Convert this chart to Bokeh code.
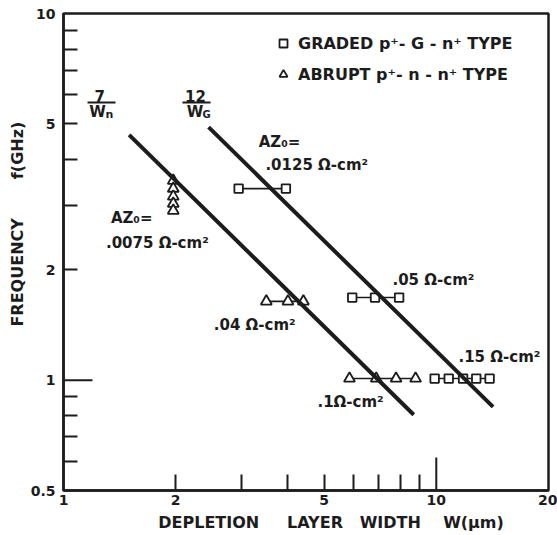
import numpy as np
from bokeh.plotting import figure
from bokeh.models import (Range1d, FixedTicker, NumeralTickFormatter,
                          Legend, LegendItem)
from bokeh.core.properties import value
from bokeh.embed import file_html
from bokeh.resources import INLINE

# ---- measured oscillation frequency (GHz) vs depletion layer width (um) ----
# graded p+-G-n+ diodes (squares), grouped by A*Z0
graded_w_0125 = [2.95, 3.95]
graded_f_0125 = [3.33, 3.33]
graded_w_05 = [5.95, 6.85, 7.95]
graded_f_05 = [1.68, 1.68, 1.68]
graded_w_15 = [9.9, 10.8, 11.8, 12.8, 13.9]
graded_f_15 = [1.01, 1.01, 1.01, 1.01, 1.01]

# abrupt p+-n-n+ diodes (triangles), grouped by A*Z0
abrupt_w_0075 = [1.97, 1.97, 1.97, 1.97, 1.97]
abrupt_f_0075 = [3.50, 3.33, 3.17, 3.03, 2.90]
abrupt_w_04 = [3.5, 4.0, 4.4]
abrupt_f_04 = [1.64, 1.64, 1.64]
abrupt_w_1 = [5.85, 6.9, 7.8, 8.8]
abrupt_f_1 = [1.01, 1.01, 1.01, 1.01]

# transit-time lines f = K / W
limit_k = [7, 12]
limit_w_start = [1.5, 2.45]
limit_w_end = [8.7, 14.2]

# ticks
x_ticks_labeled = [1, 2, 5, 10, 20]
x_ticks_minor = [2, 3, 4, 5, 6, 7, 8, 9]
y_ticks_labeled = [0.5, 1, 2, 5, 10]
y_ticks_minor = [0.6, 0.7, 0.8, 0.9, 2, 3, 4, 5, 6, 7, 8, 9]

INK = "#1c1c1c"
FONT = value("DejaVu Sans")
NB = "\u00a0"

p = figure(width=557, height=535, x_axis_type="log", y_axis_type="log",
           x_range=Range1d(1, 20), y_range=Range1d(0.5, 10),
           output_backend="svg", toolbar_location=None,
           min_border_left=63, min_border_right=9,
           min_border_top=13, min_border_bottom=45)
p.background_fill_color = "white"
p.border_fill_color = "white"
p.grid.visible = False
p.outline_line_color = INK
p.outline_line_width = 2.5

for ax, major, minor in ((p.xaxis[0], x_ticks_labeled, x_ticks_minor),
                         (p.yaxis[0], y_ticks_labeled, y_ticks_minor)):
    ax.ticker = FixedTicker(ticks=major, minor_ticks=minor)
    ax.formatter = NumeralTickFormatter(format="0.[0]")
    ax.axis_line_color = INK
    ax.axis_line_width = 2.5
    ax.major_tick_in = 0
    ax.major_tick_out = 0
    ax.minor_tick_out = 0
    ax.minor_tick_line_color = INK
    ax.minor_tick_line_width = 2
    ax.major_label_text_font = "DejaVu Sans"
    ax.major_label_text_font_style = "bold"
    ax.major_label_text_font_size = "14px"
    ax.major_label_text_color = INK
    ax.axis_label_text_font = "DejaVu Sans"
    ax.axis_label_text_font_style = "bold"
    ax.axis_label_text_font_size = "16px"
    ax.axis_label_text_color = INK

p.xaxis.minor_tick_in = 16
p.yaxis.minor_tick_in = 14
p.xaxis.major_label_standoff = 4
p.yaxis.major_label_standoff = 8

# axis titles (leading no-break spaces shift them off the frame centre)
p.xaxis.axis_label = NB * 9 + "DEPLETION" + NB * 5 + "LAYER" + NB * 3 + "WIDTH" + NB * 4 + "W(μm)"
p.yaxis.axis_label = NB * 10 + "FREQUENCY" + NB * 7 + "f(GHz)"
p.xaxis.axis_label_standoff = 5
p.yaxis.axis_label_standoff = 1

# longer ticks at f = 1 GHz and W = 10 um
p.segment(x0=[1], y0=[1], x1=[1.196], y1=[1], line_color=INK, line_width=2)
p.segment(x0=[10], y0=[0.5], x1=[10], y1=[0.615], line_color=INK, line_width=2)

# connecting bars inside each A*Z0 group
for w, f in ((graded_w_0125, graded_f_0125), (graded_w_05, graded_f_05),
             (graded_w_15, graded_f_15), (abrupt_w_04, abrupt_f_04),
             (abrupt_w_1, abrupt_f_1)):
    p.line(w, f, line_color=INK, line_width=1.6)

sq_w = graded_w_0125 + graded_w_05 + graded_w_15
sq_f = graded_f_0125 + graded_f_05 + graded_f_15
tr_w = abrupt_w_0075 + abrupt_w_04 + abrupt_w_1
tr_f = abrupt_f_0075 + abrupt_f_04 + abrupt_f_1

r_sq = p.scatter(sq_w, sq_f, marker="square", size=8.5, fill_color="white",
                 line_color=INK, line_width=1.8)
r_tr = p.scatter(tr_w, tr_f, marker="triangle", size=11, fill_color="white",
                 line_color=INK, line_width=1.8)

# transit-time limit lines
for k, w0, w1 in zip(limit_k, limit_w_start, limit_w_end):
    w = np.array([w0, w1])
    p.line(w, k / w, line_color=INK, line_width=4)

def txt(x, y, s, size="15px", align="left"):
    p.text(x=[x], y=[y], text=[s], text_font=FONT, text_font_style="bold",
           text_font_size=size, text_align=align, text_baseline="middle",
           text_color=INK)

# A*Z0 annotations
txt(3.34, 4.45, "AZ₀=")
txt(3.48, 3.85, ".0125 Ω-cm²")
txt(1.34, 2.76, "AZ₀=")
txt(1.30, 2.37, ".0075 Ω-cm²")
txt(7.63, 1.88, ".05 Ω-cm²")
txt(11.47, 1.16, ".15 Ω-cm²")
txt(2.53, 1.41, ".04 Ω-cm²")
txt(4.80, 0.869, ".1Ω-cm²")

# line labels 7/Wn and 12/WG
txt(1.25, 5.97, "7", align="center")
p.segment(x0=[1.16], y0=[5.72], x1=[1.379], y1=[5.72], line_color=INK, line_width=2)
txt(1.234, 5.40, "W", align="center")
txt(1.296, 5.30, "n", size="11px")
txt(2.26, 5.97, "12", align="center")
p.segment(x0=[2.085], y0=[5.72], x1=[2.48], y1=[5.72], line_color=INK, line_width=2)
txt(2.252, 5.40, "W", align="center")
txt(2.36, 5.30, "G", size="10px")

legend = Legend(items=[LegendItem(label="GRADED p⁺- G - n⁺ TYPE", renderers=[r_sq]),
                       LegendItem(label="ABRUPT p⁺- n - n⁺ TYPE", renderers=[r_tr])],
                location=(210, 406), orientation="vertical",
                glyph_width=20, glyph_height=20, label_height=20, spacing=11,
                label_standoff=5, padding=0, margin=0,
                border_line_color=None, background_fill_alpha=0,
                label_text_font="DejaVu Sans", label_text_font_style="bold",
                label_text_font_size="16px", label_text_color=INK)
p.add_layout(legend, "center")

open("out.html", "w").write(file_html(p, INLINE))
